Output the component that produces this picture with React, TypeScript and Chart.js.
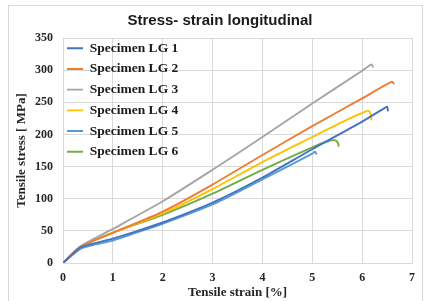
import React, { useEffect, useRef } from "react";
import { Chart, registerables } from "chart.js";

Chart.register(...registerables);

const chartTitle = "Stress- strain longitudinal";
const xTitle = "Tensile strain [%]";
const yTitle = "Tensile stress [ MPa]";

const seriesNames = [
  "Specimen LG 1",
  "Specimen LG 2",
  "Specimen LG 3",
  "Specimen LG 4",
  "Specimen LG 5",
  "Specimen LG 6",
];
const seriesColors = ["#4472C4", "#ED7D31", "#A5A5A5", "#FFC000", "#5B9BD5", "#70AD47"];

const lg1Strain = [0, 0.35, 0.6, 1, 1.5, 2, 3, 4, 5, 6, 6.45, 6.5, 6.52];
const lg1Stress = [0, 24, 30, 38, 50, 63, 94, 133, 177, 220, 241, 243, 236];

const lg2Strain = [0, 0.35, 1, 2, 3, 4, 5, 6, 6.6, 6.64];
const lg2Stress = [0, 25, 47, 80, 122, 168, 213, 256, 282, 278];

const lg3Strain = [0, 0.35, 1, 2, 3, 4, 5, 6, 6.19, 6.22];
const lg3Stress = [0, 26, 53, 96, 145, 196, 248, 299, 309, 304];

const lg4Strain = [0, 0.35, 1, 2, 3, 4, 5, 5.7, 6.05, 6.12, 6.17, 6.19];
const lg4Stress = [0, 25, 47, 77, 115, 157, 196, 223, 235, 237, 232, 222];

const lg5Strain = [0, 0.35, 0.6, 1, 1.5, 2, 3, 4, 5, 5.05, 5.09];
const lg5Stress = [0, 22, 28, 35, 48, 61, 91, 130, 170, 173, 169];

const lg6Strain = [0, 0.35, 1, 2, 3, 4, 5, 5.3, 5.46, 5.52, 5.53];
const lg6Stress = [0, 25, 47, 75, 108, 145, 180, 189, 191, 186, 181];

const strainSeries = [lg1Strain, lg2Strain, lg3Strain, lg4Strain, lg5Strain, lg6Strain];
const stressSeries = [lg1Stress, lg2Stress, lg3Stress, lg4Stress, lg5Stress, lg6Stress];

const xMin = 0;
const xMax = 7;
const xStep = 1;
const yMin = 0;
const yMax = 350;
const yStep = 50;

const serif = "'Liberation Serif', 'Times New Roman', serif";
const sans = "'Liberation Sans', Arial, sans-serif";
const gridColor = "#d9d9d9";

const framePlugin = {
  id: "frame",
  beforeDraw(chart: any) {
    const { ctx, width, height } = chart;
    ctx.save();
    ctx.fillStyle = "#ffffff";
    ctx.fillRect(0, 0, width, height);
    ctx.strokeStyle = "#d9d9d9";
    ctx.lineWidth = 1;
    ctx.strokeRect(8.5, 5.5, 414, 300);
    ctx.restore();
  },
};

// place the in-plot legend at the top-left corner of the chart area
const legendPlacePlugin = {
  id: "legendPlace",
  afterLayout(chart: any) {
    const lg = chart.legend;
    const area = chart.chartArea;
    if (!lg || !area) return;
    const h = lg.height;
    const w = lg.width;
    lg.left = area.left - 3.2;
    lg.right = lg.left + w;
    lg.top = area.top - 3.7;
    lg.bottom = lg.top + h;
  },
};

export default function App() {
  const canvasRef = useRef<HTMLCanvasElement | null>(null);

  useEffect(() => {
    const canvas = canvasRef.current;
    if (!canvas) return;
    const datasets = seriesNames.map((name, i) => ({
      label: name,
      data: strainSeries[i].map((x, j) => ({ x, y: stressSeries[i][j] })),
      borderColor: seriesColors[i],
      backgroundColor: seriesColors[i],
      borderWidth: 1.9,
      pointRadius: 0,
      showLine: true,
      tension: 0.25,
      fill: false,
    }));

    const chart = new Chart(canvas, {
      type: "scatter",
      data: { datasets },
      plugins: [framePlugin, legendPlacePlugin],
      options: {
        animation: false,
        responsive: false,
        maintainAspectRatio: false,
        layout: { padding: { left: 14, right: 0, top: 0, bottom: 0 } },
        plugins: {
          tooltip: { enabled: false },
          title: {
            display: true,
            text: chartTitle,
            color: "#1a1a1a",
            font: { family: sans, size: 15, weight: "bold" },
            padding: { top: 12, bottom: 8 },
          },
          legend: {
            display: true,
            position: "chartArea",
            align: "start",
            labels: {
              usePointStyle: true,
              pointStyle: "line",
              pointStyleWidth: 16,
              color: "#1a1a1a",
              padding: 7.2,
              font: { family: serif, size: 13.5, weight: "bold" },
            },
          },
        },
        scales: {
          x: {
            type: "linear",
            min: xMin,
            max: xMax,
            afterFit: (s: any) => {
              s.height = 38;
              s.paddingRight = 14;
            },
            ticks: {
              stepSize: xStep,
              padding: 8,
              color: "#262626",
              font: { family: serif, size: 12, weight: "bold" },
            },
            grid: { color: gridColor, drawTicks: false },
            border: { color: gridColor },
            title: {
              display: true,
              text: xTitle,
              color: "#262626",
              font: { family: serif, size: 13, weight: "bold" },
              padding: { top: 0, bottom: 1 },
            },
          },
          y: {
            type: "linear",
            min: yMin,
            max: yMax,
            afterFit: (s: any) => {
              s.width = 49;
            },
            ticks: {
              stepSize: yStep,
              padding: 10,
              color: "#262626",
              font: { family: serif, size: 12, weight: "bold" },
            },
            grid: { color: gridColor, drawTicks: false },
            border: { color: gridColor },
            title: {
              display: true,
              text: yTitle,
              color: "#262626",
              font: { family: serif, size: 13, weight: "bold" },
              padding: { top: 0, bottom: 0 },
            },
          },
        },
      },
    } as any);

    return () => chart.destroy();
  }, []);

  return (
    <div style={{ position: "fixed", left: 0, top: 0, width: 426, height: 301, background: "#fff" }}>
      <canvas ref={canvasRef} width={426} height={301} style={{ display: "block", width: 426, height: 301 }} />
    </div>
  );
}
